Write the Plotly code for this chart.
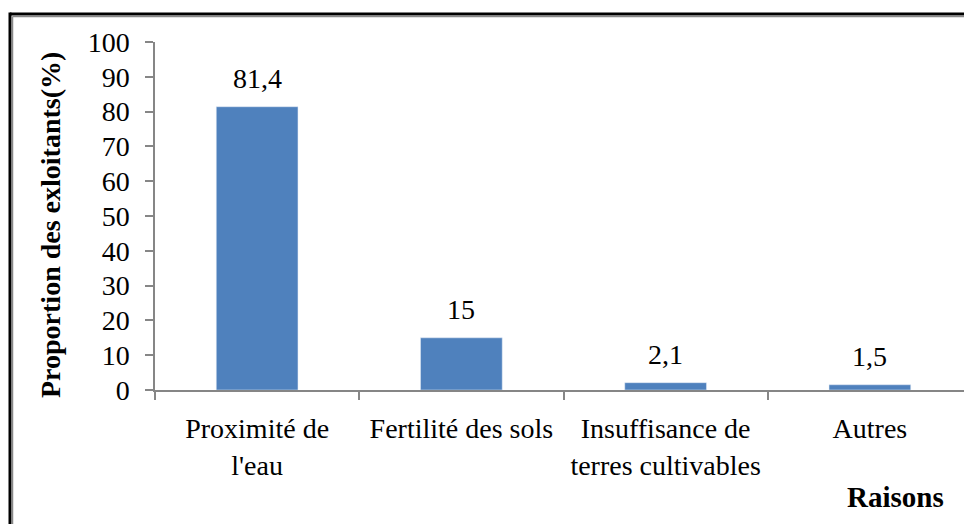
import plotly.graph_objects as go

categories = ["Proximité de<br>l'eau", "Fertilité des sols", "Insuffisance de<br>terres cultivables", "Autres"]
values = [81.4, 15, 2.1, 1.5]
y_ticks = [0, 10, 20, 30, 40, 50, 60, 70, 80, 90, 100]

W, H = 972, 524
OFF = 8  # page body margin
# target screen positions of the plot area
SX0, SX1, SY0, SY1 = 155, 972, 42, 390
L = SX0 - OFF
R = W - (SX1 - OFF)
T = SY0 - OFF
B = H - (SY1 - OFF)
pw, ph = W - L - R, H - T - B

def px_x(p):
    return (p - OFF - L) / pw

def px_y(p):
    return (H - B - (p - OFF)) / ph

FONT = "Liberation Serif"
AXIS_COL = "#868686"

fig = go.Figure(go.Bar(
    x=categories, y=values, marker_color="#4F81BD", width=0.4,
    hoverinfo="skip",
))

annotations = []
for c, v in zip(categories, values):
    txt = (f"{v:g}").replace(".", ",")
    annotations.append(dict(x=c, y=v, xref="x", yref="y", text=txt, showarrow=False,
                            yanchor="bottom", yshift=11, font=dict(size=28, color="black", family=FONT)))

annotations.append(dict(x=px_x(895), y=px_y(497), xref="paper", yref="paper",
                        text="<b>Raisons</b>", showarrow=False, xanchor="center", yanchor="middle",
                        font=dict(size=29, color="black", family=FONT)))
annotations.append(dict(x=px_x(50), y=px_y(225), xref="paper", yref="paper",
                        text="<b>Proportion des exloitants(%)</b>", showarrow=False, textangle=-90,
                        xanchor="center", yanchor="middle",
                        font=dict(size=28, color="black", family=FONT)))

shapes = [
    dict(type="line", xref="paper", yref="paper", x0=px_x(10), x1=px_x(990), y0=px_y(14), y1=px_y(14),
         line=dict(color="black", width=3)),
    dict(type="line", xref="paper", yref="paper", x0=px_x(10), x1=px_x(10), y0=px_y(12.5), y1=px_y(540),
         line=dict(color="black", width=3)),
    dict(type="line", xref="paper", yref="paper", x0=px_x(12.5), x1=px_x(990), y0=px_y(16.5), y1=px_y(16.5),
         line=dict(color="#888888", width=1.5)),
    dict(type="line", xref="paper", yref="paper", x0=px_x(12.5), x1=px_x(12.5), y0=px_y(16.5), y1=px_y(540),
         line=dict(color="#888888", width=1.5)),
]

fig.update_layout(
    width=W, height=H,
    margin=dict(l=L, r=R, t=T, b=B, pad=0),
    paper_bgcolor="white", plot_bgcolor="white",
    showlegend=False,
    font=dict(family=FONT, size=28, color="black"),
    annotations=annotations,
    shapes=shapes,
    xaxis=dict(
        type="category", showline=True, linecolor=AXIS_COL, linewidth=1.5,
        ticks="outside", tickson="boundaries", ticklen=8, tickcolor=AXIS_COL, tickwidth=1.5,
        showgrid=False, zeroline=False, ticklabelstandoff=13,
        tickfont=dict(size=28, family=FONT, color="black"),
    ),
    yaxis=dict(
        range=[0, 100], tickvals=y_ticks, showline=True, linecolor=AXIS_COL, linewidth=1.5,
        ticks="outside", ticklen=8, tickcolor=AXIS_COL, tickwidth=1.5,
        showgrid=False, zeroline=False, ticklabelstandoff=10,
        tickfont=dict(size=28, family=FONT, color="black"),
    ),
)

fig.write_html("out.html")
